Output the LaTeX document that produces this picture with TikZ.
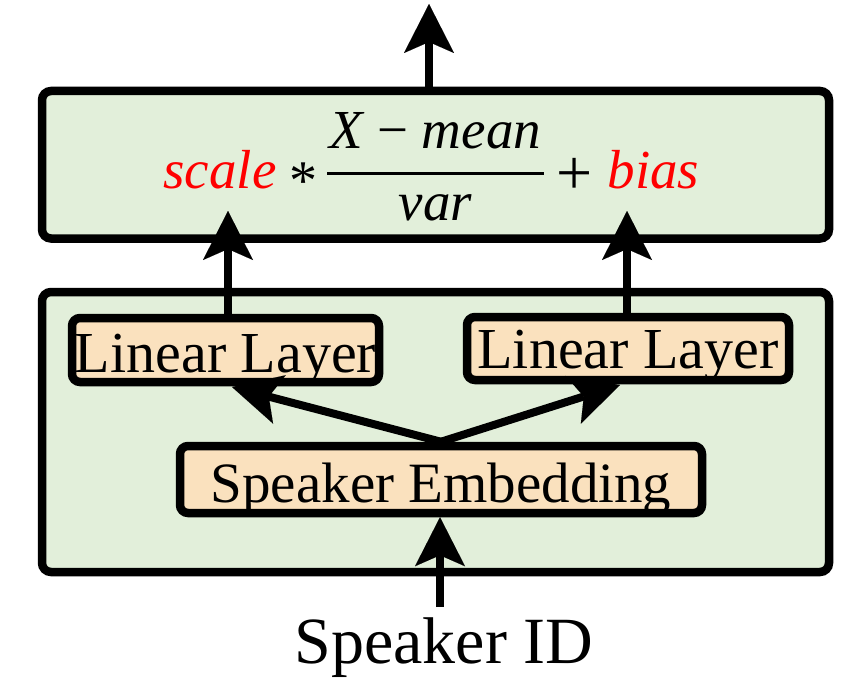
\documentclass[tikz,border=0pt]{standalone}
\usepackage{fontspec}
\setmainfont{Liberation Serif}
\usetikzlibrary{arrows.meta}
\definecolor{boxgreen}{HTML}{E2EFDA}
\definecolor{peach}{HTML}{FAE1BE}
\definecolor{fred}{HTML}{FF0000}
\begin{document}
\begin{tikzpicture}[x=1pt,y=-1pt,
  outerbox/.style={draw=black, line width=8.5pt, fill=boxgreen, rounded corners=9pt, inner sep=0pt, outer sep=4.25pt},
  innerbox/.style={draw=black, line width=8.5pt, fill=peach, rounded corners=8pt, inner sep=0pt, outer sep=4.25pt, font=\fontsize{58}{60}\selectfont},
  arr/.style={line width=8pt, -{Stealth[length=49pt,width=50pt,inset=11pt,line width=0.01pt]}},
  ftext/.style={inner sep=0pt, anchor=base, font=\fontsize{55}{60}\selectfont\itshape},
  opnode/.style={inner sep=0pt, anchor=base, font=\fontsize{56}{60}\selectfont},
]
\useasboundingbox (0,0) rectangle (856,690);
% boxes
\node[outerbox, minimum width=787pt, minimum height=147.5pt] (top) at (435.5,164.75) {};
\node[outerbox, minimum width=787pt, minimum height=280pt] (mid) at (435.5,432) {};
\node[innerbox, minimum width=307pt, minimum height=64pt, text height=54pt, text depth=10pt] (ll1) at (225.5,350) {Linear Layer};
\node[innerbox, minimum width=322pt, minimum height=63pt, text height=51pt, text depth=12pt] (ll2) at (628,348.5) {Linear Layer};
\node[innerbox, font=\fontsize{57}{60}\selectfont, minimum width=522pt, minimum height=67pt, text height=56pt, text depth=11pt] (emb) at (441,479.5) {Speaker Embedding};
\node[anchor=base, inner sep=0pt, font=\fontsize{66}{70}\selectfont] (sid) at (444,663) {Speaker ID};
% formula
\node[ftext, text=fred] (scale) at (220,188) {scale};
\node[opnode] (star) at (303,199) {*};
\node[ftext] (num) at (435.5,148) {X {\upshape\char"2212} mean};
\draw[line width=3pt] (327,173) -- (544,173);
\node[ftext] (den) at (435.5,220) {var};
\node[opnode, font=\fontsize{64}{66}\selectfont] (plus) at (574.5,194) {+};
\node[ftext, text=fred] (bias) at (653.5,188) {bias};
% arrows
\coordinate (outtip) at (429,4);
\draw[arr] (top.north -| outtip) -- (outtip);
\coordinate (stip) at (228,211);
\draw[arr] (ll1.north -| stip) -- (stip);
\coordinate (btip) at (627,211);
\draw[arr] (ll2.north -| btip) -- (btip);
\coordinate (d1) at (232,387);
\coordinate (d2) at (620,385);
\draw[arr] (emb.north) -- (d1);
\draw[arr] (emb.north) -- (d2);
\coordinate (sidtop) at (440,607);
\draw[arr] (sidtop) -- (emb.south -| sidtop);
\end{tikzpicture}
\end{document}
